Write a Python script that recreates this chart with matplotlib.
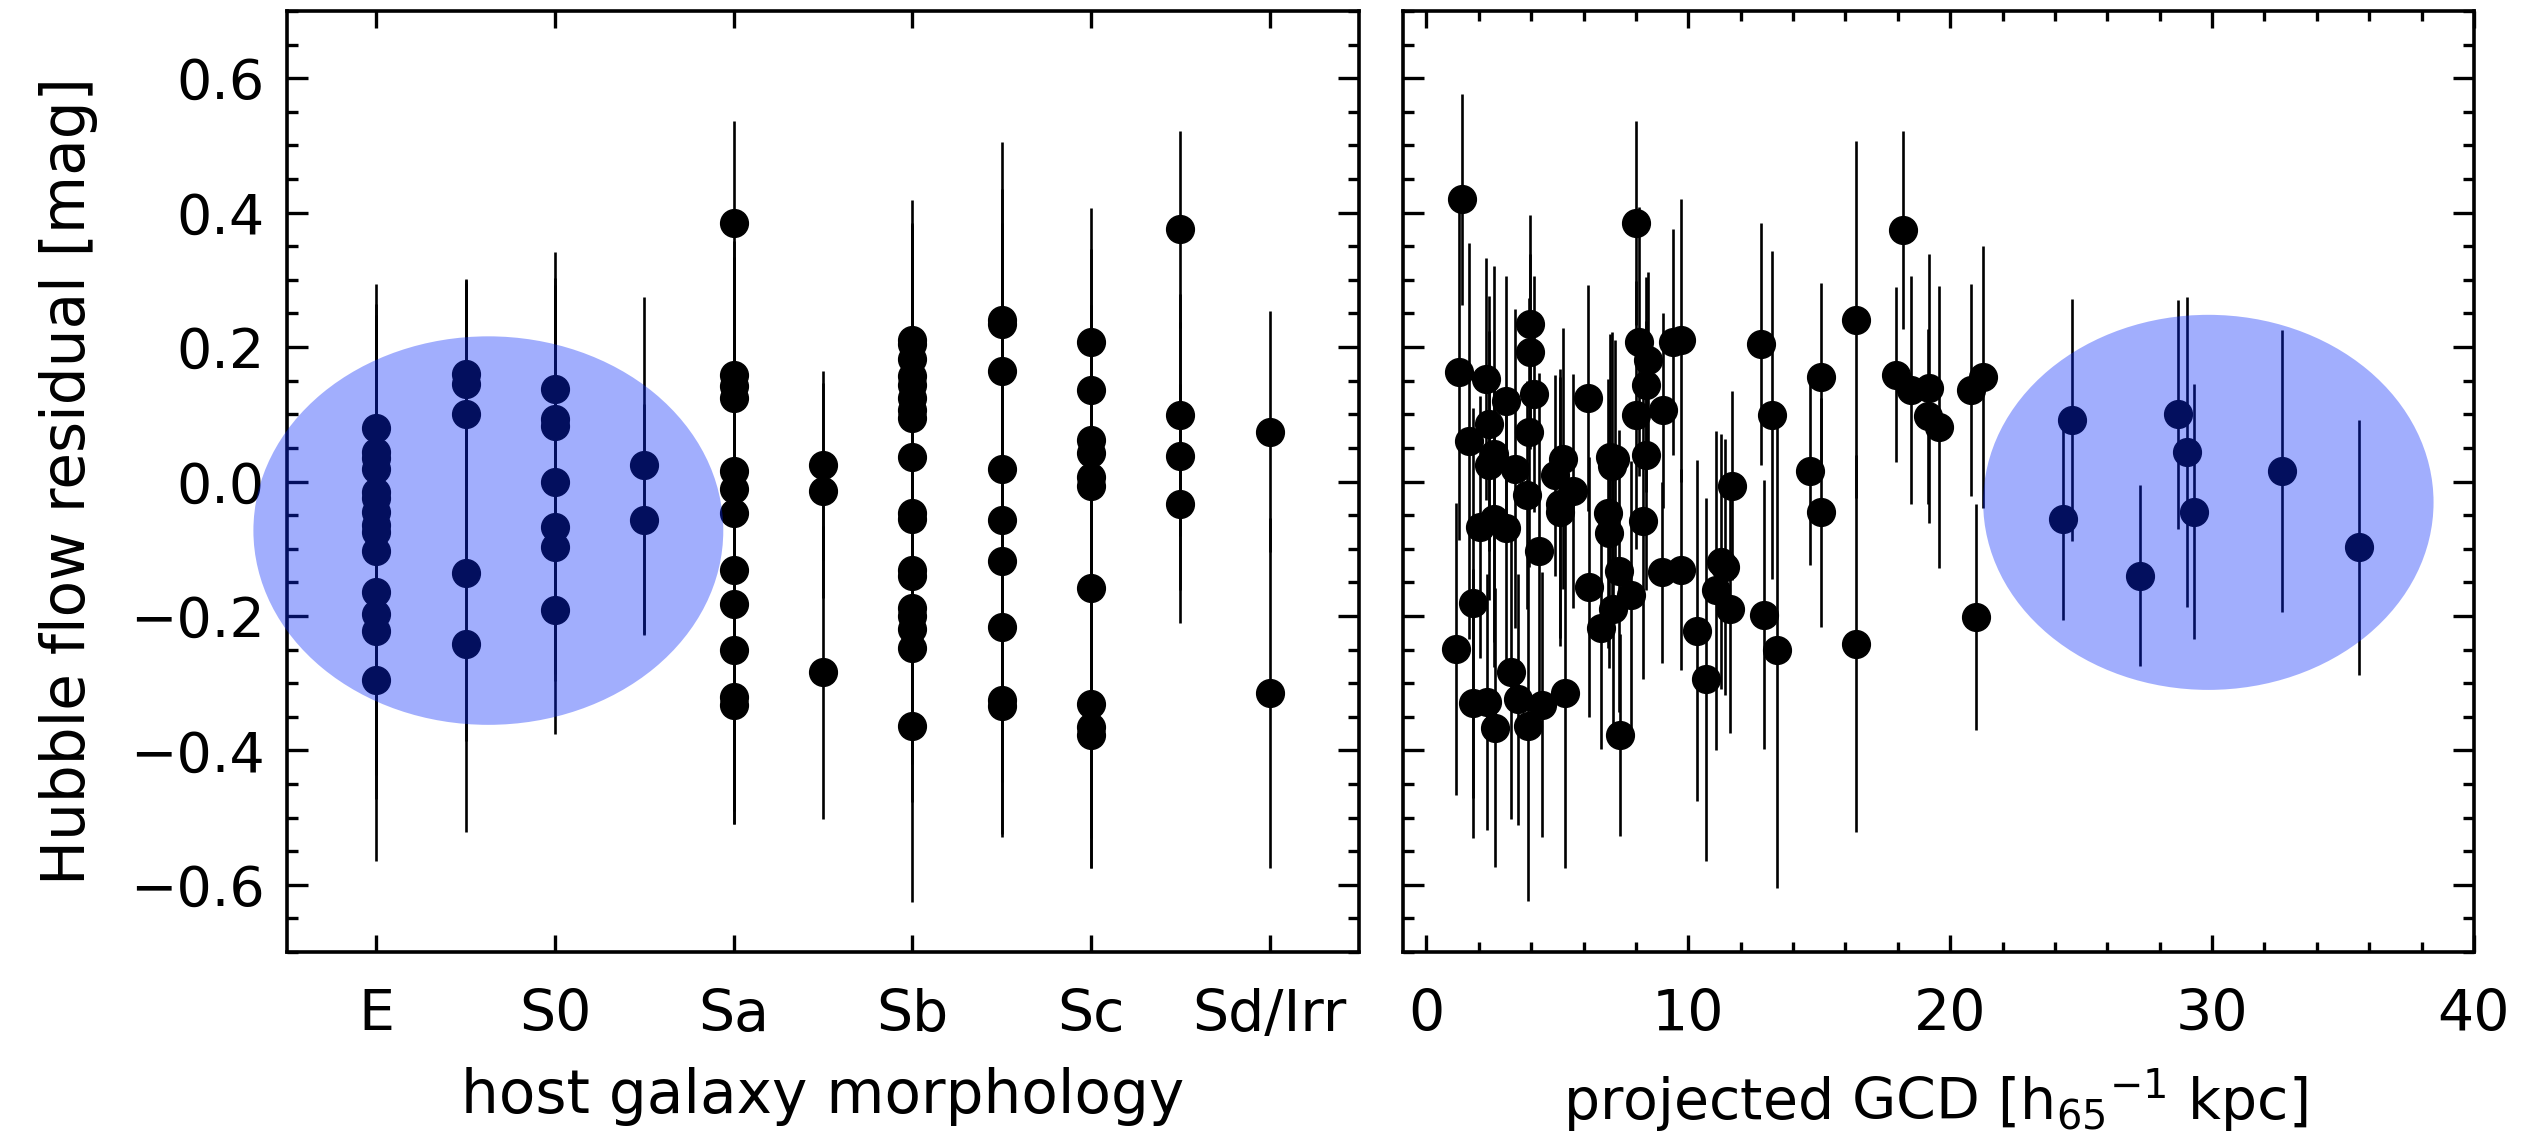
import numpy as np
import matplotlib
matplotlib.use('Agg')
import matplotlib.pyplot as plt
from matplotlib.patches import Ellipse
from matplotlib.ticker import MultipleLocator

matplotlib.rcParams['font.family'] = 'DejaVu Sans'

# --- left panel: host galaxy morphology (E=0 ... Sd/Irr=5, half steps between)
morph_labels = ['E', 'S0', 'Sa', 'Sb', 'Sc', 'Sd/Irr']

morph_x = [0.0] * 14 + [0.5] * 5 + [1.0] * 7 + [1.5] * 2 + [2.0] * 12 + [2.5] * 3 \
    + [3.0] * 18 + [3.5] * 9 + [4.0] * 10 + [4.5] * 4 + [5.0] * 2
morph_res = [0.080, 0.044, 0.035, 0.018, -0.015, -0.025, -0.045, -0.065, -0.075, -0.104, -0.164, -0.197, -0.222, -0.295,
             0.160, 0.145, 0.100, -0.136, -0.241,
             0.138, 0.093, 0.083, 0.000, -0.067, -0.097, -0.191,
             0.024, -0.057,
             0.385, 0.158, 0.142, 0.124, 0.016, -0.011, -0.047, -0.132, -0.182, -0.250, -0.320, -0.332,
             0.024, -0.014, -0.284,
             0.210, 0.205, 0.182, 0.157, 0.144, 0.125, 0.107, 0.095, 0.036, -0.047, -0.056, -0.131, -0.140,
             -0.188, -0.200, -0.220, -0.247, -0.364,
             0.240, 0.235, 0.164, 0.018, -0.057, -0.118, -0.217, -0.325, -0.334,
             0.207, 0.136, 0.062, 0.042, 0.007, -0.006, -0.158, -0.331, -0.365, -0.377,
             0.375, 0.099, 0.038, -0.033,
             0.074, -0.315]
morph_err = [0.214, 0.22, 0.20, 0.23, 0.21, 0.24, 0.22, 0.25, 0.20, 0.23, 0.26, 0.24, 0.25, 0.27,
             0.141, 0.15, 0.20, 0.25, 0.281,
             0.203, 0.20, 0.22, 0.18, 0.22, 0.20, 0.184,
             0.251, 0.172,
             0.152, 0.20, 0.19, 0.21, 0.20, 0.22, 0.20, 0.23, 0.22, 0.24, 0.189, 0.177,
             0.141, 0.16, 0.218,
             0.209, 0.18, 0.20, 0.17, 0.19, 0.20, 0.18, 0.20, 0.22, 0.20, 0.23, 0.19, 0.20,
             0.22, 0.18, 0.20, 0.23, 0.261,
             0.265, 0.20, 0.22, 0.20, 0.24, 0.21, 0.23, 0.20, 0.195,
             0.20, 0.21, 0.20, 0.22, 0.19, 0.21, 0.23, 0.20, 0.21, 0.198,
             0.146, 0.18, 0.20, 0.178,
             0.179, 0.26]

# --- right panel: projected galactocentric distance
gcd = [1.36, 1.25, 1.12, 1.63, 1.76, 1.76, 2.31, 2.06, 2.58, 3.03,
       2.26, 2.39, 2.58, 2.39, 3.05, 3.37, 3.97, 3.97, 4.11, 3.92,
       3.82, 4.30, 6.17, 4.90, 5.21, 5.09, 5.60, 5.09, 7.99, 8.12,
       8.46, 8.40, 8.01, 9.03, 8.40, 9.41, 9.73, 7.02, 7.19, 7.10,
       6.93, 6.97, 8.27, 12.78, 13.20, 14.66, 15.05, 15.05, 11.67, 11.26,
       11.40, 11.04, 11.58, 10.33, 10.66, 12.89, 13.40, 16.41, 16.41, 18.19,
       17.94, 18.49, 19.21, 19.15, 19.59, 20.80, 21.27, 20.97, 2.61, 3.22,
       3.50, 3.88, 4.43, 5.30, 6.20, 6.68, 7.12, 7.34, 7.80, 7.38,
       9.01, 9.71,
       24.66, 24.30, 27.25, 28.69, 29.04, 29.30, 32.67, 35.60]
gcd_res = [0.420, 0.163, -0.249, 0.060, -0.181, -0.330, -0.328, -0.068, -0.056, -0.069,
           0.153, 0.086, 0.041, 0.024, 0.120, 0.019, 0.235, 0.193, 0.130, 0.073,
           -0.020, -0.103, 0.124, 0.009, 0.034, -0.033, -0.014, -0.045, 0.385, 0.208,
           0.181, 0.144, 0.099, 0.106, 0.039, 0.207, 0.210, 0.036, 0.034, 0.023,
           -0.047, -0.077, -0.058, 0.205, 0.099, 0.016, 0.155, -0.046, -0.006, -0.119,
           -0.127, -0.162, -0.190, -0.222, -0.294, -0.198, -0.251, 0.241, -0.241, 0.374,
           0.159, 0.136, 0.139, 0.097, 0.081, 0.136, 0.156, -0.201, -0.366, -0.284,
           -0.324, -0.364, -0.332, -0.315, -0.157, -0.218, -0.190, -0.133, -0.169, -0.377,
           -0.135, -0.131,
           0.092, -0.056, -0.140, 0.100, 0.044, -0.045, 0.016, -0.098]
gcd_err = [0.157, 0.25, 0.217, 0.295, 0.29, 0.20, 0.19, 0.195, 0.22, 0.20,
           0.18, 0.19, 0.28, 0.20, 0.186, 0.237, 0.162, 0.145, 0.176, 0.20,
           0.17, 0.264, 0.168, 0.15, 0.194, 0.20, 0.174, 0.20, 0.152, 0.20,
           0.13, 0.16, 0.20, 0.145, 0.20, 0.168, 0.21, 0.184, 0.176, 0.20,
           0.20, 0.20, 0.236, 0.18, 0.244, 0.14, 0.14, 0.17, 0.14, 0.19,
           0.19, 0.237, 0.184, 0.254, 0.27, 0.20, 0.353, 0.265, 0.28, 0.147,
           0.13, 0.17, 0.20, 0.13, 0.21, 0.158, 0.195, 0.168, 0.207, 0.218,
           0.187, 0.26, 0.197, 0.26, 0.194, 0.18, 0.20, 0.21, 0.20, 0.15,
           0.135, 0.15,
           0.18, 0.15, 0.135, 0.17, 0.23, 0.19, 0.21, 0.19]

ell_color = '#0A2AFA'
ell_alpha = 0.38

fig = plt.figure(figsize=(25.42, 11.35), dpi=100)
ax1 = fig.add_axes([0.1129, 0.1612, 0.4217, 0.8291])
ax2 = fig.add_axes([0.5519, 0.1612, 0.4213, 0.8291])

for ax in (ax1, ax2):
    for s in ax.spines.values():
        s.set_linewidth(2.6)
    ax.set_ylim(-0.7, 0.7)
    ax.yaxis.set_major_locator(MultipleLocator(0.2))
    ax.yaxis.set_minor_locator(MultipleLocator(0.05))
    ax.tick_params(which='both', direction='in', top=True, right=True, width=2.4)
    ax.tick_params(which='major', length=15)
    ax.tick_params(which='minor', length=8)
    ax.tick_params(axis='x', which='major', length=12, labelsize=41, pad=26)
    ax.tick_params(axis='y', labelsize=40, pad=16)

# left panel
ax1.errorbar(morph_x, morph_res, yerr=morph_err, fmt='o', color='k', ms=20,
             elinewidth=1.9, capsize=0, zorder=3)
ax1.set_xlim(-0.5, 5.5)
ax1.set_xticks(range(len(morph_labels)))
ax1.set_xticklabels(morph_labels)
ax1.xaxis.set_minor_locator(plt.NullLocator())
ax1.set_yticks([-0.6, -0.4, -0.2, 0.0, 0.2, 0.4, 0.6])
ax1.set_yticklabels(['\u22120.6', '\u22120.4', '\u22120.2', '0.0', '0.2', '0.4', '0.6'])
ax1.set_xlabel('host galaxy morphology', fontsize=43)
ax1.xaxis.set_label_coords(0.5, -0.122)
ax1.set_ylabel('Hubble flow residual [mag]', fontsize=43)
ax1.yaxis.set_label_coords(-0.176, 0.5)
ax1.add_patch(Ellipse((0.627, -0.073), 2.63, 0.578, facecolor=ell_color,
                      edgecolor='none', alpha=ell_alpha, zorder=5, clip_on=False))

# right panel
ax2.errorbar(gcd, gcd_res, yerr=gcd_err, fmt='o', color='k', ms=20,
             elinewidth=1.9, capsize=0, zorder=3)
ax2.set_xlim(-0.9, 40)
ax2.xaxis.set_major_locator(MultipleLocator(10))
ax2.xaxis.set_minor_locator(MultipleLocator(2))
ax2.tick_params(axis='x', which='minor', length=7)
ax2.tick_params(axis='y', labelleft=False)
ax2.set_xlabel(r'projected GCD [h$_{65}$$^{-1}$ kpc]', fontsize=41)
ax2.xaxis.set_label_coords(0.497, -0.122)
ax2.add_patch(Ellipse((29.86, -0.031), 17.2, 0.558, facecolor=ell_color,
                      edgecolor='none', alpha=ell_alpha, zorder=5))

plt.savefig('out.png', dpi=100)
